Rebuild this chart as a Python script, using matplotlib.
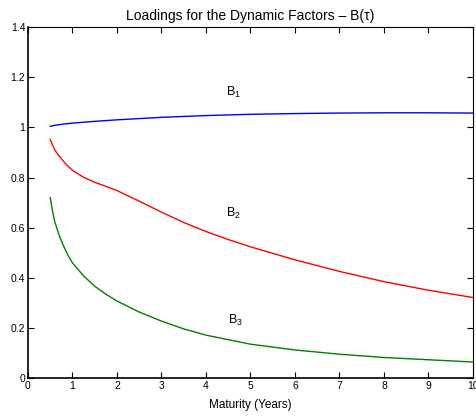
import matplotlib
matplotlib.use('Agg')
from matplotlib import pyplot as plt
from matplotlib.ticker import FormatStrFormatter

plt.rcParams['font.family'] = ['Liberation Sans', 'DejaVu Sans']
plt.rcParams['mathtext.default'] = 'regular'

# maturities (years) and factor loadings
tau_b1 = [0.5, 0.6, 0.75, 1, 1.5, 2, 2.5, 3, 4, 5, 6, 7, 8, 9, 10]
b1 = [1.004, 1.008, 1.012, 1.017, 1.024, 1.030, 1.035, 1.040, 1.047, 1.052,
      1.055, 1.057, 1.058, 1.058, 1.057]

tau_b2 = [0.5, 0.55, 0.6, 0.7, 0.8, 0.9, 1, 1.25, 1.5, 1.75, 2, 2.5,
          3, 3.5, 4, 4.5, 5, 6, 7, 8, 9, 10]
b2 = [0.952, 0.930, 0.910, 0.886, 0.864, 0.845, 0.829, 0.801, 0.781, 0.765,
      0.748, 0.706, 0.662, 0.621, 0.585, 0.553, 0.524, 0.472, 0.426, 0.385,
      0.351, 0.322]

tau_b3 = [0.5, 0.55, 0.6, 0.7, 0.8, 0.9, 1, 1.25, 1.5, 1.75, 2, 2.5, 3,
          3.5, 4, 5, 6, 7, 8, 9, 10]
b3 = [0.720, 0.668, 0.625, 0.570, 0.527, 0.490, 0.460, 0.408, 0.367, 0.335,
      0.308, 0.264, 0.228, 0.197, 0.172, 0.136, 0.113, 0.096, 0.083, 0.074,
      0.065]

xticks = list(range(0, 11))
yticks = [0, 0.2, 0.4, 0.6, 0.8, 1.0, 1.2, 1.4]

fig = plt.figure(figsize=(4.77, 4.19), dpi=100)
ax = fig.add_axes([0.0587, 0.0971, 0.9329, 0.8385])

ax.plot(tau_b1, b1, color='#0000ff', lw=1)
ax.plot(tau_b2, b2, color='#ff0000', lw=1)
ax.plot(tau_b3, b3, color='#008000', lw=1)

ax.text(4.45, 1.14, 'B$_1$', fontsize=9, va='center')
ax.text(4.45, 0.655, 'B$_2$', fontsize=9, va='center')
ax.text(4.5, 0.232, 'B$_3$', fontsize=9, va='center')

ax.set_xlim(0, 10)
ax.set_ylim(0, 1.4)
ax.set_xticks(xticks)
ax.set_yticks(yticks)
ax.yaxis.set_major_formatter(FormatStrFormatter('%g'))
ax.tick_params(direction='in', length=4, width=0.8, labelsize=7.5,
               top=True, right=True, pad=2)
for side in ['left', 'bottom']:
    ax.spines[side].set_linewidth(1.2)
for side in ['top', 'right']:
    ax.spines[side].set_linewidth(0.8)

ax.set_xlabel('Maturity (Years)', fontsize=8.5, labelpad=6)
ax.set_title('Loadings for the Dynamic Factors \u2013 B(\u03c4)', fontsize=10, pad=5)

plt.savefig('out.png', dpi=100)
